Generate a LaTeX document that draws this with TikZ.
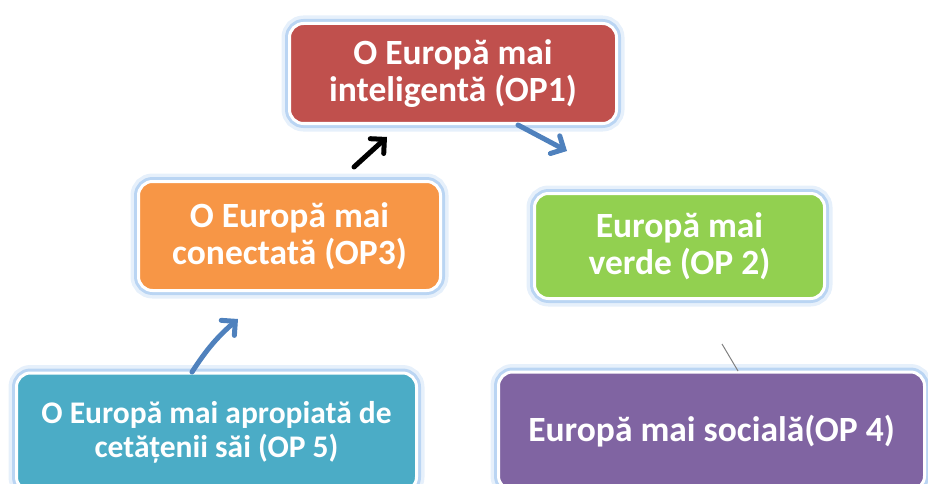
\documentclass[tikz,border=0pt]{standalone}
\usepackage{fontspec}
\setmainfont{Carlito}
\usetikzlibrary{arrows.meta}
\definecolor{opred}{HTML}{C0504D}
\definecolor{oporange}{HTML}{F79646}
\definecolor{opgreen}{HTML}{92D050}
\definecolor{opteal}{HTML}{4BACC6}
\definecolor{oppurple}{HTML}{8064A2}
\definecolor{glowblue}{HTML}{9DC3EE}
\definecolor{arrowblue}{HTML}{4F81BD}
\tikzset{
  opbox/.style={draw=white, line width=3pt, rounded corners=14pt, text=white,
    align=center, inner sep=0pt,
    font=\bfseries\fontsize{35.5}{37}\selectfont,
    preaction={draw=glowblue, line width=16pt, opacity=0.25},
    preaction={draw=glowblue, line width=9pt, opacity=0.6}},
  oparrow/.style={line width=5pt, line cap=round,
    -{Straight Barb[length=10pt, width=20pt, line cap=round]}}
}
\begin{document}
\begin{tikzpicture}[x=1pt, y=-1pt]
  \useasboundingbox (0,0) rectangle (928,484);
  \clip (0,0) rectangle (928,484);

  % Cajas
  \node[opbox, fill=opred, minimum width=327pt, minimum height=100pt]
    (op1) at (453,73.5) {O Europă mai\\inteligentă (OP1)};
  \node[opbox, fill=oporange, minimum width=302pt, minimum height=109pt]
    (op3) at (289.5,236) {O Europă mai\\conectată (OP3)};
  \node[opbox, fill=opgreen, minimum width=290pt, minimum height=105pt]
    (op2) at (679.5,246) {Europă mai\\verde (OP 2)};
  \node[opbox, fill=opteal, minimum width=400pt, minimum height=118pt,
    font=\bfseries\fontsize{31.5}{34}\selectfont]
    (op5) at (216.5,432) {O Europă mai apropiată de\\cetățenii săi (OP 5)};
  \node[opbox, fill=oppurple, minimum width=426pt, minimum height=118pt]
    (op4) at (711.5,431) {Europă mai socială(OP 4)};

  % Flechas
  \coordinate (a5s) at (192,372);
  \coordinate (a5e) at (238,319);
  \coordinate (a3s) at (354,167);
  \coordinate (a3e) at (387,137);
  \coordinate (a1s) at (518,125);
  \coordinate (a1e) at (567,151);
  \coordinate (l2s) at (722,344);
  \coordinate (l2e) at (738,371);
  \draw[oparrow, draw=arrowblue] (a5s) to[bend left=8] (a5e);
  \draw[oparrow, draw=black] (a3s) -- (a3e);
  \draw[oparrow, draw=arrowblue] (a1s) -- (a1e);
  \draw[gray, line width=1pt] (l2s) -- (l2e);
\end{tikzpicture}
\end{document}
